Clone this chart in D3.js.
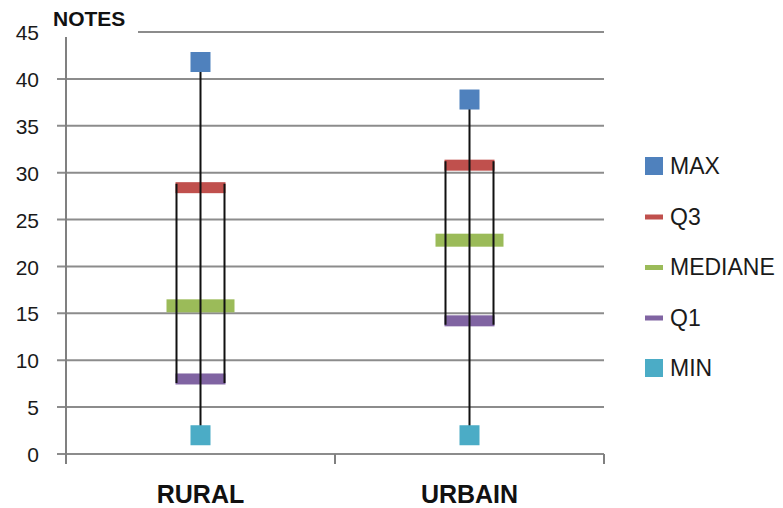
<!DOCTYPE html>
<html><head><meta charset="utf-8">
<script src="https://cdn.jsdelivr.net/npm/d3@7"></script>
<style>
html,body{margin:0;padding:0;background:#fff;}
svg{display:block;font-family:"Liberation Sans",Arial,sans-serif;}
</style></head>
<body><svg id="c" width="783" height="508"></svg>
<script>
const categories = ["RURAL", "URBAIN"];
const maxVals = [41.8, 37.8];
const q3Vals = [28.4, 30.8];
const medVals = [15.8, 22.8];
const q1Vals = [8, 14.2];
const minVals = [2, 2];
const yTicks = [0, 5, 10, 15, 20, 25, 30, 35, 40, 45];
const seriesNames = ["MAX", "Q3", "MEDIANE", "Q1", "MIN"];
const seriesColors = ["#4F81BD", "#C0504D", "#9BBB59", "#8064A2", "#4BACC6"];
const seriesShapes = ["square", "dash", "dash", "dash", "square"];
const yTitle = "NOTES";

const svg = d3.select("#c");
const x = d3.scaleBand().domain(categories).range([66, 604]).padding(0);
const y = d3.scaleLinear().domain([0, 45]).range([454, 32]);

// gridlines
svg.append("g").selectAll("line").data(yTicks).join("line")
  .attr("x1", 57).attr("x2", 604)
  .attr("y1", d => y(d)).attr("y2", d => y(d))
  .attr("stroke", "#8c8c8c").attr("stroke-width", 2);

svg.append("line").attr("x1", 66).attr("x2", 66).attr("y1", y(45)).attr("y2", 464)
  .attr("stroke", "#808080").attr("stroke-width", 2);

// title cover + text
svg.append("rect").attr("x", 44).attr("y", 0).attr("width", 94).attr("height", 37).attr("fill", "#fff");
svg.append("text").attr("x", 53).attr("y", 26).attr("font-size", 21).attr("font-weight", "bold")
  .attr("fill", "#111").text(yTitle);

// y axis labels
const yAxis = svg.append("g").attr("transform", "translate(66,0)")
  .call(d3.axisLeft(y).tickValues(yTicks).tickSize(0).tickPadding(27));
yAxis.select(".domain").remove();
yAxis.selectAll("text").attr("font-size", 21).attr("fill", "#1a1a1a")
  .attr("font-family", "Liberation Sans, Arial, sans-serif").attr("dy", "0.36em");

// x axis ticks
const xEdges = [x.range()[0]].concat(categories.map(c => x(c) + x.bandwidth()));
svg.append("g").selectAll("line").data(xEdges).join("line")
  .attr("x1", d => d).attr("x2", d => d).attr("y1", y(0)).attr("y2", 464)
  .attr("stroke", "#808080").attr("stroke-width", 2);
svg.append("g").selectAll("text").data(categories).join("text")
  .attr("x", d => x(d) + x.bandwidth() / 2).attr("y", 503)
  .attr("text-anchor", "middle").attr("font-size", 25).attr("font-weight", "bold")
  .attr("fill", "#111").text(d => d);

const data = categories.map((c, i) => ({c, max: maxVals[i], q3: q3Vals[i], med: medVals[i], q1: q1Vals[i], min: minVals[i]}));
const cx = d => x(d.c) + x.bandwidth() / 2;

// bars for Q3, median, Q1
const g = svg.append("g");
function dash(key, color, w, h) {
  g.selectAll(null).data(data).join("rect")
    .attr("x", d => cx(d) - w / 2).attr("y", d => y(d[key]) - h / 2)
    .attr("width", w).attr("height", h).attr("fill", color);
}
dash("q3", seriesColors[1], 50, 11);
dash("med", seriesColors[2], 68, 13);
dash("q1", seriesColors[3], 50, 11);

// box lines (white-fill up/down bars)
const boxW = 48;
g.selectAll(null).data(data).join("rect")
  .attr("x", d => cx(d) - boxW / 2).attr("y", d => y(d.q3) - 4)
  .attr("width", boxW).attr("height", d => y(d.q1) - y(d.q3) + 8)
  .attr("fill", "none").attr("stroke", "#111").attr("stroke-width", 2)
  .attr("stroke-dasharray", d => { const h = y(d.q1) - y(d.q3) + 8; return `0 ${boxW} ${h} ${boxW} ${h}`; });

// whisker
g.selectAll(null).data(data).join("line")
  .attr("x1", cx).attr("x2", cx).attr("y1", d => y(d.max)).attr("y2", d => y(d.min))
  .attr("stroke", "#111").attr("stroke-width", 2);

// squares
function sq(key, color) {
  g.selectAll(null).data(data).join("rect")
    .attr("x", d => cx(d) - 10).attr("y", d => y(d[key]) - 10)
    .attr("width", 20).attr("height", 20).attr("fill", color);
}
sq("max", seriesColors[0]);
sq("min", seriesColors[4]);

// legend
const lg = svg.append("g").selectAll("g").data(seriesNames).join("g")
  .attr("transform", (d, i) => `translate(645,${166 + i * 50.5})`);
lg.each(function(d, i) {
  const s = d3.select(this);
  if (seriesShapes[i] === "square") {
    s.append("rect").attr("x", 0).attr("y", -9).attr("width", 18).attr("height", 18).attr("fill", seriesColors[i]);
  } else {
    s.append("rect").attr("x", 0).attr("y", -2).attr("width", 18).attr("height", 5).attr("fill", seriesColors[i]);
  }
  s.append("text").attr("x", 25).attr("y", 0).attr("dy", "0.36em").attr("font-size", 23)
    .attr("fill", "#1a1a1a").text(d);
});
</script></body></html>
